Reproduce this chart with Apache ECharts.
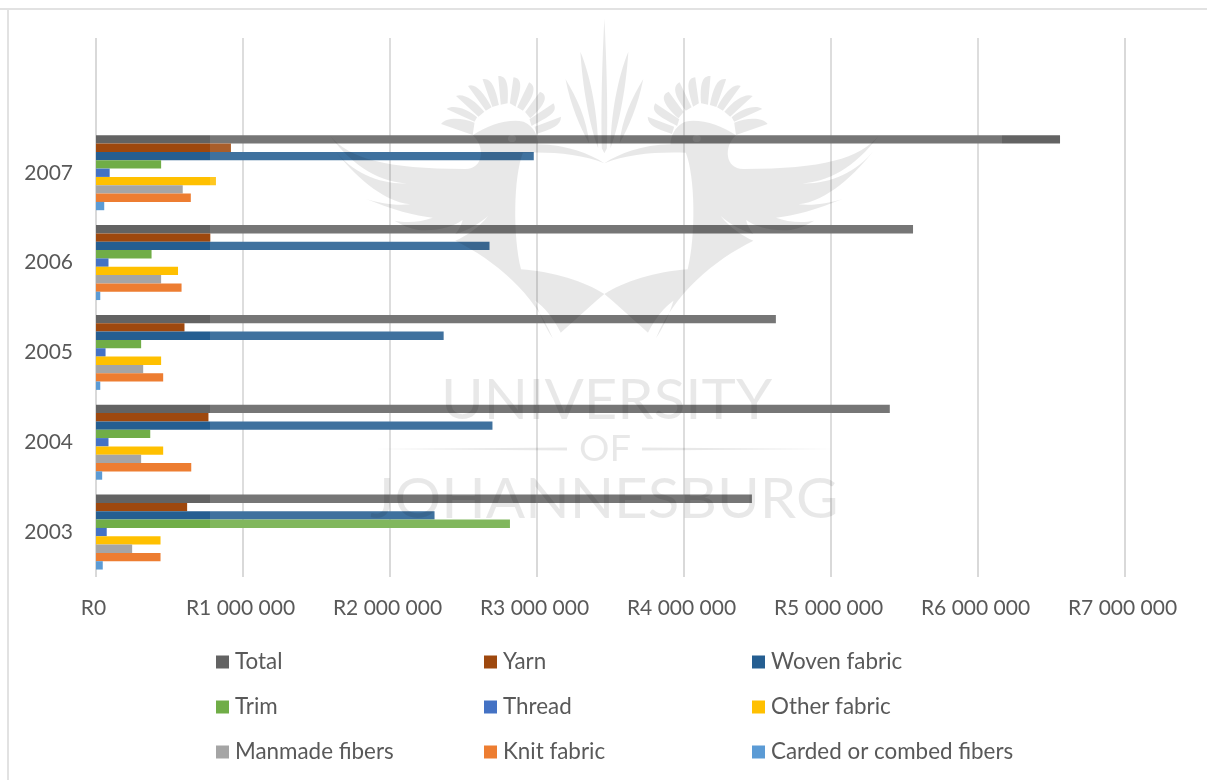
<!DOCTYPE html>
<html>
<head>
<meta charset="utf-8">
<style>html,body{margin:0;padding:0;background:#fff}#chart{width:1207px;height:780px}</style>
<script src="https://cdn.jsdelivr.net/npm/echarts@6/dist/echarts.min.js"></script>
</head>
<body>
<div id="chart"></div>
<script>
// Rand value of textile imports per year; the top band of the axis is left empty.
const years = ['2003', '2004', '2005', '2006', '2007', ''];
const total = [4462000, 5400000, 4625000, 5558000, 6558000, null];
const yarn = [620000, 765000, 602000, 778000, 918000, null];
const woven = [2303000, 2697000, 2365000, 2677000, 2978000, null];
const trim = [2816000, 369000, 307000, 378000, 443000, null];
const thread = [73000, 85000, 65000, 85000, 93000, null];
const otherFabric = [439000, 457000, 443000, 558000, 816000, null];
const manmade = [246000, 307000, 321000, 443000, 590000, null];
const knit = [439000, 648000, 457000, 582000, 645000, null];
const carded = [46000, 42000, 29000, 29000, 56000, null];

const colors = {
  'Total': '#636363', 'Yarn': '#9e480e', 'Woven fabric': '#255e91',
  'Trim': '#70ad47', 'Thread': '#4472c4', 'Other fabric': '#ffc000',
  'Manmade fibers': '#a5a5a5', 'Knit fabric': '#ed7d31', 'Carded or combed fibers': '#5b9bd5'
};
// The first series listed sits at the top of its band.
const seriesData = [
  ['Total', total], ['Yarn', yarn], ['Woven fabric', woven],
  ['Trim', trim], ['Thread', thread], ['Other fabric', otherFabric],
  ['Manmade fibers', manmade], ['Knit fabric', knit], ['Carded or combed fibers', carded]
];

const FONT = 'Lato';
const TEXT = '#595959';
const SHADE = 'rgba(0,0,0,0.09)';

const legendBase = {
  orient: 'vertical', top: 644, itemWidth: 13, itemHeight: 13, itemGap: 19,
  icon: 'rect', selectedMode: false,
  textStyle: { fontFamily: FONT, fontSize: 22.4, color: TEXT, padding: [0, 0, 0, 1], lineHeight: 26 }
};

// Crest emblem, half of it; the other half is the same shape mirrored about the centre.
const wing = 'M28,378 C80,445 180,477 400,477 C450,477 455,410 420,376 C460,345 520,325 560,335 ' +
  'C590,350 600,380 600,403 C680,405 740,430 782,460 C720,432 640,425 558,428 C532,500 530,680 553,778 ' +
  'C640,785 730,815 782,852 L760,872 L662,968 C640,920 615,890 592,872 C605,920 625,960 640,985 ' +
  'C590,850 480,750 372,692 C400,680 440,650 462,618 C440,640 410,660 372,672 C385,655 390,640 392,630 ' +
  'C370,650 320,665 270,660 C245,655 225,645 205,632 C240,640 280,635 310,623 C260,618 200,600 122,565 ' +
  'C160,580 210,588 248,583 C170,575 90,490 40,420 C90,490 170,525 245,520 C170,520 90,470 28,378 Z';
const eye = 'M517,386 A11,10 0 1,0 539,386 A11,10 0 1,0 517,386 Z';
const crest = [
  'M333,342 C345,322 390,322 425,338 L420,375 Z',
  'M348,297 C365,283 405,295 432,322 L425,335 Z',
  'M374,258 C392,248 425,268 452,305 L436,320 Z',
  'M407,228 C425,218 450,245 472,292 L456,302 Z',
  'M447,208 C470,202 482,230 492,285 L474,291 Z',
  'M490,198 C512,196 520,220 516,280 L497,284 Z',
  'M532,202 C556,205 556,230 538,290 L522,280 Z',
  'M575,217 C596,228 590,258 558,302 L542,292 Z',
  'M605,245 C630,255 620,285 578,325 L564,306 Z',
  'M642,280 C655,305 635,318 582,348 L576,328 Z',
  'M663,320 C662,348 640,355 596,372 L590,350 Z'
];
const spikes = [
  'M782,25 C776,150 772,300 775,415 L782,430 Z',
  'M716,125 C722,230 740,340 765,415 C765,320 745,200 716,125 Z',
  'M675,207 C690,290 715,350 740,400 C735,330 705,260 675,207 Z'
];
const emblemPath = [wing, eye].concat(crest, spikes).join(' ');
echarts.graphic.registerShape('emblemHalf', echarts.graphic.extendPath(emblemPath, {}));
const AXIS_X = 782 / 2.75;

function halfEmblem(mirrored) {
  return {
    type: 'emblemHalf', z: 101, silent: true,
    x: mirrored ? 320 + 2 * AXIS_X : 320, y: 10,
    scaleX: mirrored ? -1 / 2.75 : 1 / 2.75, scaleY: 1 / 3,
    style: { fill: SHADE }
  };
}

function wordmark(text, x, y, size, sx) {
  return {
    type: 'text', z: 101, silent: true, x: x, y: y, scaleX: sx,
    style: { text: text, fill: SHADE, font: '400 ' + size + 'px ' + FONT, textAlign: 'left', textVerticalAlign: 'top' }
  };
}

const option = {
  animation: false,
  backgroundColor: '#ffffff',
  textStyle: { fontFamily: FONT },
  grid: { left: 96, top: 38, width: 1029, height: 539, containLabel: false },
  xAxis: {
    type: 'value', min: 0, max: 7000000, interval: 1000000,
    axisLine: { show: false }, axisTick: { show: false },
    splitLine: { show: true, lineStyle: { color: '#d9d9d9', width: 2 } },
    axisLabel: {
      margin: 21, fontFamily: FONT, fontSize: 21, color: TEXT, padding: [0, 5, 0, 0],
      formatter: v => 'R' + String(v).replace(/\B(?=(\d{3})+$)/g, ' ')
    }
  },
  yAxis: {
    type: 'category', data: years,
    axisLine: { show: false }, axisTick: { show: false }, splitLine: { show: false },
    axisLabel: { margin: 23, fontFamily: FONT, fontSize: 21, color: TEXT }
  },
  legend: [
    Object.assign({}, legendBase, { left: 211, data: ['Total', 'Trim', 'Manmade fibers'] }),
    Object.assign({}, legendBase, { left: 479, data: ['Yarn', 'Thread', 'Knit fabric'] }),
    Object.assign({}, legendBase, { left: 747, data: ['Woven fabric', 'Other fabric', 'Carded or combed fibers'] })
  ],
  series: seriesData.map(([name, values]) => ({
    name: name, type: 'bar', data: values, barGap: 0, barCategoryGap: '16.6%',
    itemStyle: { color: colors[name] }
  })),
  graphic: { elements: [
    // Thin frame along the top and left edges of the page.
    { type: 'rect', z: 1, silent: true, shape: { x: 0, y: 8, width: 1207, height: 2 }, style: { fill: '#e2e2e2' } },
    { type: 'rect', z: 1, silent: true, shape: { x: 7, y: 8, width: 2, height: 772 }, style: { fill: '#e2e2e2' } },
    // Faint white veil that lifts the bars behind the emblem.
    { type: 'rect', z: 100, silent: true, shape: { x: 210, y: 15, width: 792, height: 515 }, style: { fill: 'rgba(255,255,255,0.12)' } },
    halfEmblem(false), halfEmblem(true),
    wordmark('UNIVERSITY', 441, 372, 57, 1.02),
    wordmark('OF', 579, 431, 37, 1.03),
    wordmark('JOHANNESBURG', 370, 471, 57, 1.022),
    { type: 'polygon', z: 101, silent: true, shape: { points: [[372, 449], [567, 447.5], [567, 450.5]] }, style: { fill: SHADE } },
    { type: 'polygon', z: 101, silent: true, shape: { points: [[837, 449], [642, 447.5], [642, 450.5]] }, style: { fill: SHADE } }
  ] }
};

const chart = echarts.init(document.getElementById('chart'), null, { renderer: 'canvas' });
chart.setOption(option);
</script>
</body>
</html>
